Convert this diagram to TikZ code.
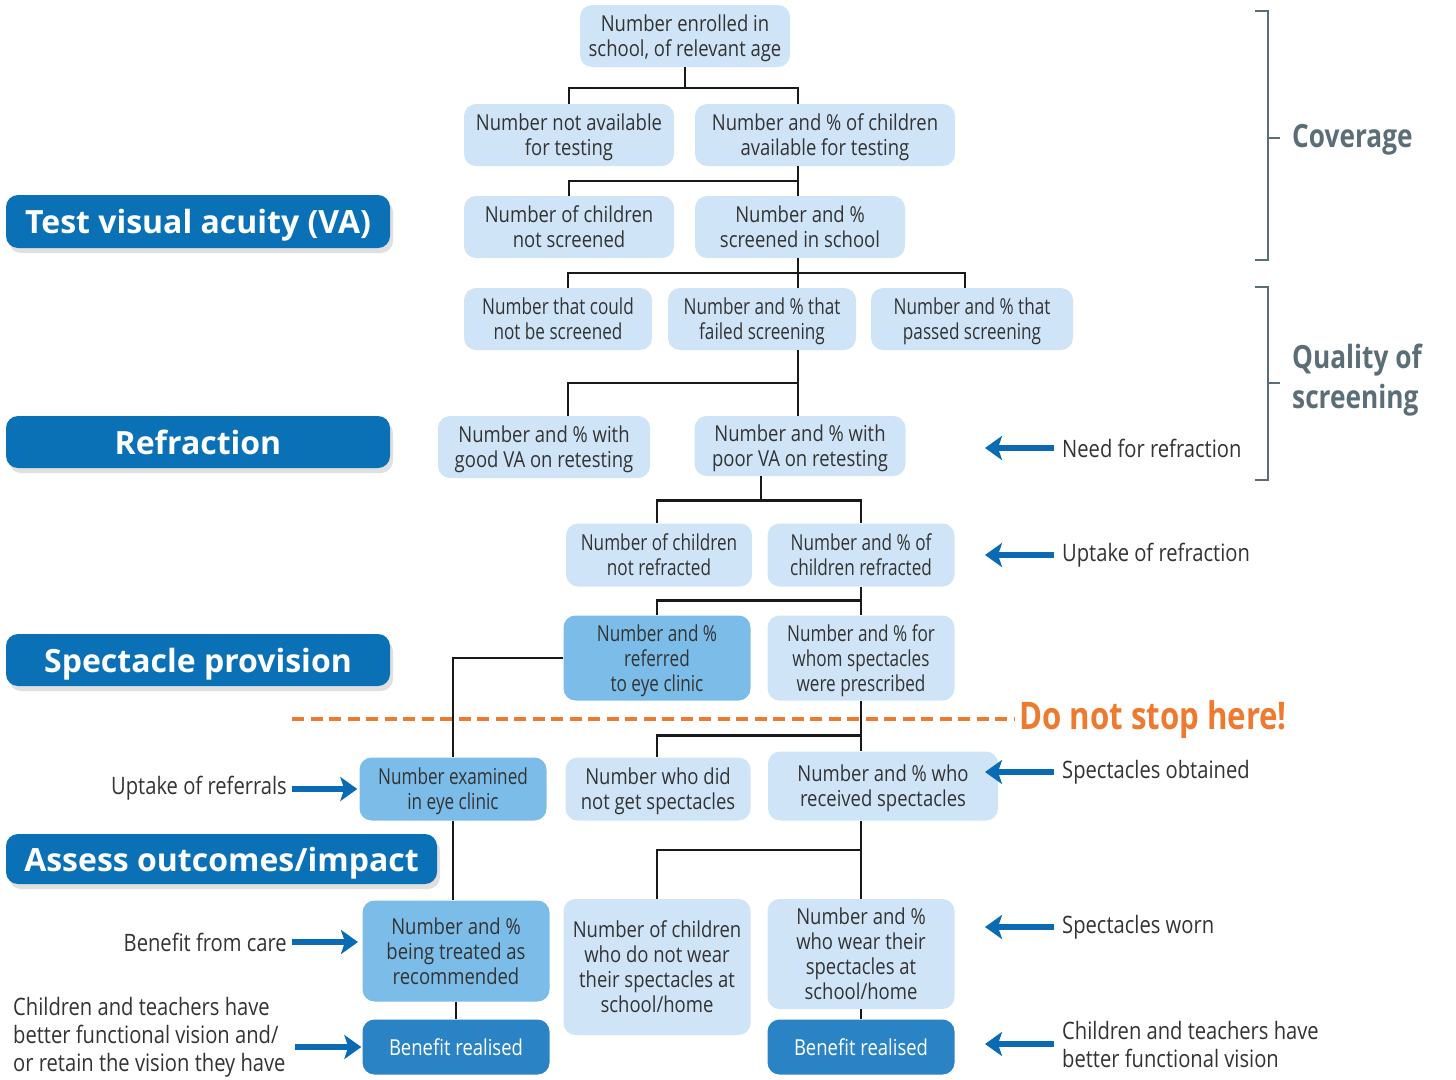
\documentclass[tikz,border=0pt]{standalone}
\usepackage{fontspec}
\setmainfont{Open Sans}[FakeStretch=0.84]
\newfontfamily\condf{Open Sans}[FakeStretch=0.78]
\newfontfamily\labf{Open Sans}
\newfontfamily\bcondf{Open Sans}[FakeStretch=0.82]
\usetikzlibrary{arrows.meta,shadows,calc}
\definecolor{lightb}{HTML}{CFE5F7}
\definecolor{medb}{HTML}{7BBDE8}
\definecolor{darkb}{HTML}{2A83C5}
\definecolor{labb}{HTML}{0A71B7}
\definecolor{arrb}{HTML}{0A6AB4}
\definecolor{grayb}{HTML}{5B6E77}
\definecolor{orng}{HTML}{EE7A30}
\definecolor{txt}{HTML}{333333}
\begin{document}
\begin{tikzpicture}[x=1pt,y=-1pt,
  bx/.style 2 args={rounded corners=12pt, fill=lightb, draw=none, align=center, text=txt,
     font=\fontsize{22}{25}\selectfont, inner sep=0pt, text depth=0pt, minimum width=#1, minimum height=#2},
  cnd/.style={font=\condf\fontsize{22}{25}\selectfont},
  med/.style={fill=medb},
  drk/.style={fill=darkb, text=white},
  lab/.style={rounded corners=12pt, fill=labb, text=white, inner sep=0pt,
     text height=24pt, text depth=0pt,
     font=\labf\bfseries\fontsize{32}{36}\selectfont,
     drop shadow={shadow xshift=3pt, shadow yshift=-5pt, fill=black, opacity=0.12}},
  conn/.style={draw=black!90, line width=2.4pt},
  barrow/.style={draw=arrb, line width=5.5pt, -{Stealth[length=17pt,width=24pt,inset=4pt]}},
  side/.style={text=txt, inner sep=0pt, font=\fontsize{24}{28}\selectfont},
  brk/.style={draw=grayb, line width=2.4pt},
  brtxt/.style={text=grayb, inner sep=0pt, anchor=west, align=left,
     font=\bcondf\bfseries\fontsize{32}{40}\selectfont}
]
\useasboundingbox (0,0) rectangle (1456,1079);

% ---------- boxes ----------
\node[bx={210pt}{62pt}] (n1) at (685,36) {Number enrolled in\\school, of relevant age};
\node[bx={210pt}{62pt}] (n2) at (569,135) {Number not available\\for testing};
\node[bx={260pt}{62pt}] (n3) at (825,135) {Number and \% of children\\available for testing};
\node[bx={210pt}{62pt}] (n4) at (569,227) {Number of children\\not screened};
\node[bx={210pt}{62pt}] (n5) at (800,227) {Number and \%\\screened in school};
\node[bx={188pt}{62pt},cnd] (n6) at (558,319) {Number that could\\not be screened};
\node[bx={188pt}{62pt},cnd] (n7) at (762,319) {Number and \% that\\failed screening};
\node[bx={202pt}{62pt},cnd] (n8) at (972,319) {Number and \% that\\passed screening};
\node[bx={212pt}{62pt}] (n9) at (544,447) {Number and \% with\\good VA on retesting};
\node[bx={211pt}{60pt}] (n10) at (800,446) {Number and \% with\\poor VA on retesting};
\node[bx={186pt}{63pt},cnd] (n11) at (659,555) {Number of children\\not refracted};
\node[bx={187pt}{63pt},cnd] (n12) at (861,555) {Number and \% of\\children refracted};
\node[bx={187pt}{85pt},cnd,med] (n13) at (657,658) {Number and \%\\referred\\to eye clinic};
\node[bx={187pt}{85pt},cnd] (n14) at (861,658) {Number and \% for\\whom spectacles\\were prescribed};
\node[bx={187pt}{63pt},cnd,med] (n15) at (453,789) {Number examined\\in eye clinic};
\node[bx={185pt}{63pt}] (n16) at (658,789) {Number who did\\not get spectacles};
\node[bx={230pt}{69pt}] (n17) at (883,786) {Number and \% who\\received spectacles};
\node[bx={187pt}{101pt},med] (n18) at (456,951) {Number and \%\\being treated as\\recommended};
\node[bx={187pt}{136pt}] (n19) at (657,967) {Number of children\\who do not wear\\their spectacles at\\school/home};
\node[bx={187pt}{110pt}] (n20) at (861,954) {Number and \%\\who wear their\\spectacles at\\school/home};
\node[bx={187pt}{55pt},drk] (n21) at (456,1047) {Benefit realised};
\node[bx={187pt}{55pt},drk] (n22) at (861,1047) {Benefit realised};

% ---------- connectors ----------
\draw[conn] (n1.south) -- ++(0,21);
\draw[conn] (n2.north) -- ++(0,-16) -| ([xshift=-27pt]n3.north);
\draw[conn] ([xshift=-27pt]n3.south) -- ([xshift=-2pt]n5.north);
\draw[conn] (n4.north) -- ++(0,-15) -| ([xshift=-2pt]n5.north);
\draw[conn] ([xshift=-2pt]n5.south) -- ([xshift=36pt]n7.north);
\draw[conn] ([xshift=10pt]n6.north) -- ++(0,-15) -| ([xshift=-7pt]n8.north);
\draw[conn] ([xshift=36pt]n7.south) -- ([xshift=-2pt]n10.north);
\draw[conn] ([xshift=24pt]n9.north) -- ++(0,-33) -| ([xshift=-2pt]n10.north);
\draw[conn] ([xshift=-39pt]n10.south) -- ++(0,25);
\draw[conn] ([xshift=-2pt]n11.north) -- ++(0,-23) -| (n12.north);
\draw[conn] (n12.south) -- (n14.north);
\draw[conn] (n13.north) -- ++(0,-15) -| (n14.north);
\draw[conn] (n13.west) -| (n15.north);
\draw[conn] (n15.south) -- (n15.south |- n18.north);
\draw[conn] (n14.south) -- ([xshift=-22pt]n17.north);
\draw[conn] ([xshift=-1pt]n16.north) -- ++(0,-22) -| ([xshift=-22pt]n17.north);
\draw[conn] ([xshift=-22pt]n17.south) -- (n20.north);
\draw[conn] (n19.north) -- ++(0,-49) -| (n20.north);
\draw[conn] (n18.south) -- (n21.north);
\draw[conn] (n20.south) -- (n22.north);

% ---------- stage labels ----------
\node[lab, minimum width=384pt, minimum height=53pt] (l1) at (198,221.5) {Test visual acuity (VA)};
\node[lab, minimum width=384pt, minimum height=52pt] (l2) at (198,442) {Refraction};
\node[lab, minimum width=384pt, minimum height=52pt] (l3) at (198,660) {Spectacle provision};
\node[lab, minimum width=431pt, minimum height=50pt] (l4) at (221.5,859) {Assess outcomes/impact};

% ---------- do not stop here ----------
\node[text=orng, inner sep=0pt, anchor=west, font=\bcondf\bfseries\fontsize{38}{40}\selectfont] (stop) at (1019,720) {Do not stop here!};
\draw[draw=orng, line width=3.2pt, dash pattern=on 12pt off 6.5pt] (292,719) -- ([xshift=-4pt]stop.west |- 0,719);

% ---------- brackets ----------
\draw[brk] (1255,11) -- (1268,11) -- (1268,260) -- (1255,260);
\draw[brk] (1268,138) -- (1280,138);
\node[brtxt] (cov) at (1292,140) {Coverage};
\draw[brk] (1255,287) -- (1268,287) -- (1268,480) -- (1255,480);
\draw[brk] (1268,383) -- (1280,383);
\node[brtxt] (qual) at (1292,380) {Quality of\\screening};

% ---------- right side indicators ----------
\node[side, anchor=west] (t1) at (1062,448) {Need for refraction};
\node[side, anchor=west] (t2) at (1062,555) {Uptake of refraction};
\node[side, anchor=west] (t3) at (1062,772) {Spectacles obtained};
\node[side, anchor=west] (t4) at (1062,927) {Spectacles worn};
\node[side, anchor=west, align=left] (t5) at (1062,1044) {Children and teachers have\\better functional vision};
\draw[barrow] ([xshift=-8pt]t1.west) -- ++(-69,0);
\draw[barrow] ([xshift=-8pt]t2.west) -- ++(-69,0);
\draw[barrow] ([xshift=-8pt]t3.west) -- ++(-69,0);
\draw[barrow] ([xshift=-8pt]t4.west) -- ++(-69,0);
\draw[barrow] ([xshift=-8pt]t5.west) -- ++(-69,0);

% ---------- left side indicators ----------
\node[side, anchor=east] (u1) at (287,788) {Uptake of referrals};
\node[side, anchor=east] (u2) at (287,942) {Benefit from care};
\node[side, anchor=west, align=left] (u3) at (13,1037) {Children and teachers have\\better functional vision and/\\or retain the vision they have};
\draw[barrow] ($(u1.east |- n15.west)+(5,0)$) -- ([xshift=-2pt]n15.west);
\draw[barrow] ([xshift=5pt]u2.east) -- ++(66,0);
\draw[barrow] ($(u3.east |- n21.west)+(9,0)$) -- ([xshift=-1pt]n21.west);
\end{tikzpicture}
\end{document}
